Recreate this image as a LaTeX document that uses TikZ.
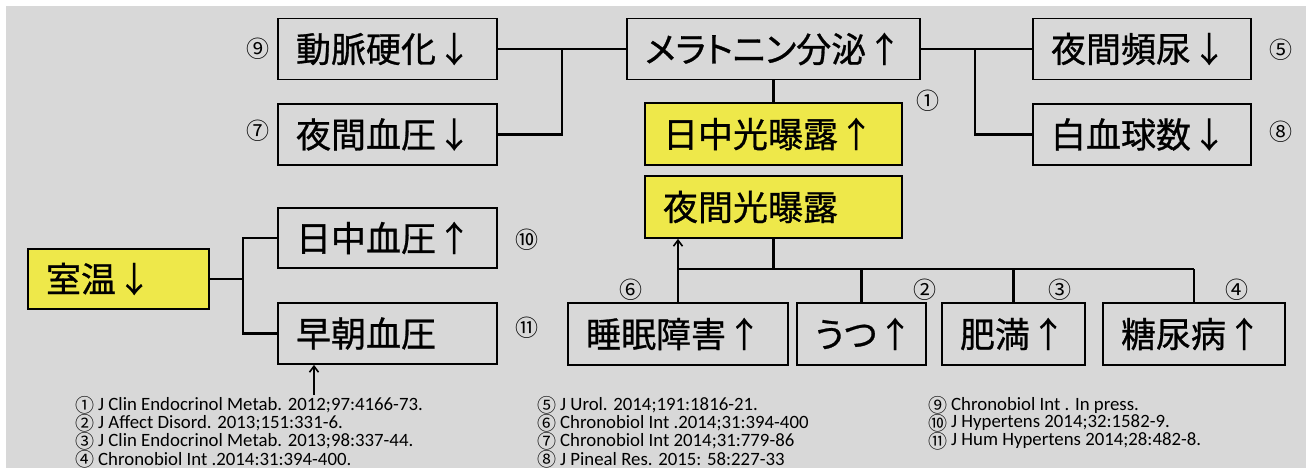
\documentclass[tikz,border=0pt]{standalone}
\usepackage{fontspec}
\setmainfont{Carlito}
\newfontfamily\jp[RawFeature=+palt,FakeBold=0.8]{Noto Sans CJK JP}
\newfontfamily\jpa[FakeBold=0.3]{Noto Sans CJK JP}
\newfontfamily\jpn{Noto Sans CJK JP}
\usetikzlibrary{arrows.meta}
\definecolor{bg}{RGB}{216,216,216}
\definecolor{yel}{RGB}{238,232,74}
\newcommand{\up}{\kern0.02em{\jpa ↑}}
\newcommand{\dn}{\kern0.02em{\jpa ↓}}
\tikzset{
  box/.style={draw=black, line width=1.8pt, fill=bg, inner xsep=18pt, inner ysep=0pt,
    minimum height=61pt, font=\jp\fontsize{35}{40}\selectfont, align=left},
  ybox/.style={box, fill=yel},
  conn/.style={line width=2.6pt},
  num/.style={font=\jpn\fontsize{23}{24}\selectfont, inner sep=0pt},
  rnum/.style={font=\jpn\fontsize{19}{19}\selectfont, inner sep=0pt},
  ref/.style={font=\fontsize{18.8}{18}\selectfont, anchor=west, inner sep=0pt}
}
\begin{document}
\begin{tikzpicture}[x=1pt,y=-1pt]
\useasboundingbox (0,0) rectangle (1306,468);
\fill[white] (0,0) rectangle (1306,468);
\fill[bg] (6,6) rectangle (1306,468);
% top left
\node[box, text width=183pt] (hard) at (387.5,49) {動脈硬化\dn};
\node[box, text width=183pt] (nbp) at (387.5,134.5) {夜間血圧\dn};
\node[box, text width=257pt] (mel) at (773.5,49) {メラトニン分泌\up};
\node[ybox, text width=221pt, minimum height=62pt] (dayl) at (773.5,134) {日中光曝露\up};
\node[ybox, text width=221pt, minimum height=62pt] (nightl) at (773.5,207) {夜間光曝露};
\node[box, text width=182pt] (noct) at (1142,49) {夜間頻尿\dn};
\node[box, text width=182pt] (wbc) at (1142,134.5) {白血球数\dn};
% left
\node[ybox, text width=145pt, minimum height=60pt] (room) at (118.5,279) {室温\dn};
\node[box, text width=183pt, minimum height=60pt] (daybp) at (387.5,238) {日中血圧\up};
\node[box, text width=183pt] (mornbp) at (387.5,333.5) {早朝血圧};
% bottom row
\node[box, text width=184pt, minimum height=62pt] (sleep) at (678,334) {睡眠障害\up};
\node[box, text width=93pt, minimum height=62pt] (dep) at (861.5,334) {うつ\up};
\node[box, text width=107pt, minimum height=62pt] (obes) at (1013.5,334) {肥満\up};
\node[box, text width=146pt, minimum height=62pt] (dm) at (1194,334) {糖尿病\up};
% connectors
\coordinate (j1) at (562,49);
\coordinate (j2) at (975,49);
\coordinate (j3) at (243,279);
\coordinate (bar) at (0,269);
\coordinate (src) at (314,395);
\draw[conn] (hard.east) -- (mel.west);
\draw[conn] (nbp.east) -| (j1);
\draw[conn] (mel.east) -- (noct.west);
\draw[conn] (wbc.west) -| (j2);
\draw[conn] (mel.south) -- (dayl.north);
\draw[conn] (room.east) -- (j3);
\draw[conn] (daybp.west) -| (j3);
\draw[conn] (mornbp.west) -| (j3);
\draw[conn] (nightl.south) -- (nightl.south |- bar);
\draw[conn] (sleep.north |- bar) -- (dm.north |- bar);
\draw[conn, -{Straight Barb[length=6pt,width=9pt,line width=1.6pt]}] (sleep.north) -- (sleep.north |- nightl.south);
\draw[conn] (dep.north |- bar) -- (dep.north);
\draw[conn] (obes.north |- bar) -- (obes.north);
\draw[conn] (dm.north |- bar) -- (dm.north);
\draw[conn, -{Straight Barb[length=6pt,width=9pt,line width=1.6pt]}] (src) -- (src |- mornbp.south);
% numbers
\node[num] (n9) at (258,49) {⑨};
\node[num] (n7) at (258,131) {⑦};
\node[num] (n1) at (928,101) {①};
\node[num] (n5) at (1281,50) {⑤};
\node[num] (n8) at (1281,132) {⑧};
\node[num] (n10) at (527,240) {⑩};
\node[num] (n11) at (527,328) {⑪};
\node[num] (n6) at (631,290) {⑥};
\node[num] (n2) at (925,290) {②};
\node[num] (n3) at (1060,290) {③};
\node[num] (n4) at (1237,290) {④};
% references
\node[rnum] (r1n) at (85,405) {①}; \node[ref] (r1) at (98,405) {J Clin Endocrinol Metab. 2012;97:4166-73.};
\node[rnum] (r2n) at (85,423) {②}; \node[ref] (r2) at (98,423) {J Affect Disord. 2013;151:331-6.};
\node[rnum] (r3n) at (85,441) {③}; \node[ref] (r3) at (98,441) {J Clin Endocrinol Metab. 2013;98:337-44.};
\node[rnum] (r4n) at (85,459) {④}; \node[ref] (r4) at (98,459) {Chronobiol Int .2014:31:394-400.};
\node[rnum] (r5n) at (547,405) {⑤}; \node[ref] (r5) at (560,405) {J Urol. 2014;191:1816-21.};
\node[rnum] (r6n) at (547,423) {⑥}; \node[ref] (r6) at (560,423) {Chronobiol Int .2014;31:394-400};
\node[rnum] (r7n) at (547,441) {⑦}; \node[ref] (r7) at (560,441) {Chronobiol Int 2014;31:779-86};
\node[rnum] (r8n) at (547,459) {⑧}; \node[ref] (r8) at (560,459) {J Pineal Res. 2015: 58:227-33};
\node[rnum] (r9n) at (938,405) {⑨}; \node[ref] (r9) at (951,405) {Chronobiol Int . In press.};
\node[rnum] (r10n) at (938,423) {⑩}; \node[ref] (r10) at (951,423) {J Hypertens 2014;32:1582-9.};
\node[rnum] (r11n) at (938,441) {⑪}; \node[ref] (r11) at (951,441) {J Hum Hypertens 2014;28:482-8.};
\end{tikzpicture}
\end{document}
